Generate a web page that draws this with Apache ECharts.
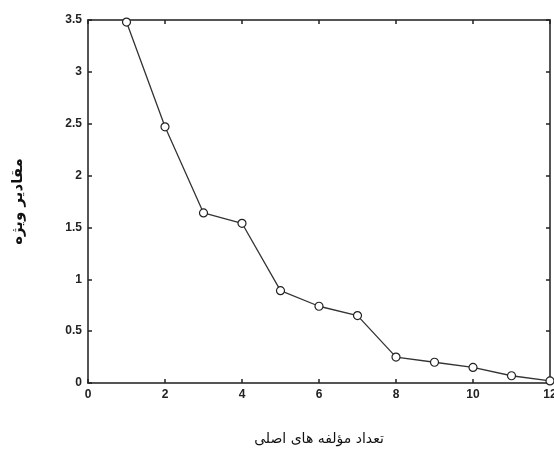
<!DOCTYPE html>
<html><head><meta charset="utf-8">
<script src="https://cdn.jsdelivr.net/npm/echarts@6/dist/echarts.min.js"></script>
<style>html,body{margin:0;padding:0;background:#fff}#c{width:554px;height:452px}</style>
</head><body><div id="c"></div>
<script>
const components = [1,2,3,4,5,6,7,8,9,10,11,12];
const eigenvalues = [3.48,2.47,1.64,1.54,0.89,0.74,0.65,0.25,0.20,0.15,0.07,0.02];
const xTitle = 'تعداد مؤلفه های اصلی';
const yTitle = 'مقادیر ویژه';

const chart = echarts.init(document.getElementById('c'));
const axisLine = {show:true, onZero:false, lineStyle:{color:'#555', width:2}};
const tick = {show:true, inside:true, length:4, lineStyle:{color:'#222', width:1.5}};
const lbl = {color:'#222', fontFamily:'Arial, Liberation Sans', fontWeight:'bold', fontSize:12};
chart.setOption({
  animation:false,
  grid:{left:88, right:4, top:20, bottom:69, containLabel:false, outerBoundsMode:'none'},
  xAxis:[
    {type:'value', min:0, max:12, interval:2, axisLine, axisTick:tick,
     axisLabel:Object.assign({margin:6}, lbl), splitLine:{show:false},
     name:xTitle, nameLocation:'middle', nameGap:49,
     nameTextStyle:{fontFamily:'DejaVu Sans', fontSize:14, color:'#111'}},
    {type:'value', position:'top', min:0, max:12, interval:2, axisLine, axisTick:tick,
     axisLabel:{show:false}, splitLine:{show:false}}
  ],
  yAxis:[
    {type:'value', min:0, max:3.5, interval:0.5, axisLine, axisTick:tick,
     axisLabel:Object.assign({margin:6}, lbl), splitLine:{show:false},
     name:yTitle, nameLocation:'middle', nameGap:62, nameRotate:90,
     nameTextStyle:{fontFamily:'DejaVu Sans', fontWeight:'bold', fontSize:15, color:'#111'}},
    {type:'value', position:'right', min:0, max:3.5, interval:0.5, axisLine, axisTick:tick,
     axisLabel:{show:false}, splitLine:{show:false}}
  ],
  series:[{
    type:'line', data: components.map((c,i)=>[c, eigenvalues[i]]),
    symbol:'circle', symbolSize:8,
    itemStyle:{color:'#fff', borderColor:'#222', borderWidth:1.2},
    lineStyle:{color:'#333', width:1.3}
  }]
});
</script></body></html>
